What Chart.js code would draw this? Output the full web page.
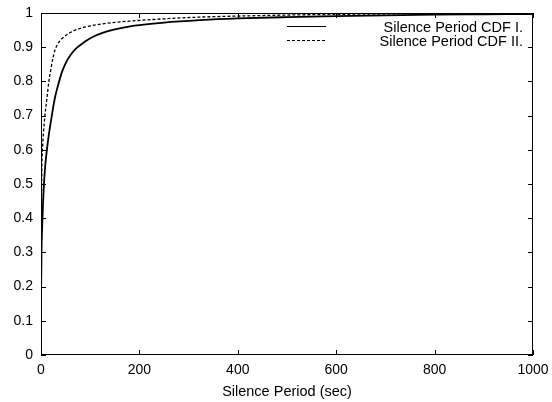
<!DOCTYPE html>
<html>
<head>
<meta charset="utf-8">
<script src="https://cdn.jsdelivr.net/npm/chart.js@4"></script>
<style>
  html, body { margin: 0; padding: 0; background: #fff; }
  #wrap { width: 552px; height: 402px; }
</style>
</head>
<body>
<div id="wrap"><canvas id="chartCdf" width="552" height="402"></canvas></div>
<script>
// valores (segundos, probabilidade acumulada)
const periodoI = [0, 1, 2, 4, 6, 9, 12, 16, 22, 28, 34, 42, 50, 60, 72, 88, 105, 125, 150, 190, 250, 323, 400, 500, 600, 700, 800, 900, 1000];
const cdfI     = [0.15, 0.3, 0.36, 0.44, 0.5, 0.56, 0.6, 0.645, 0.7, 0.75, 0.785, 0.825, 0.853, 0.877, 0.897, 0.915, 0.93, 0.942, 0.952, 0.963, 0.972, 0.979, 0.984, 0.988, 0.991, 0.993, 0.995, 0.996, 0.997];

const periodoII = [0, 1, 2, 3, 5, 8, 12, 16, 20, 24, 28, 33, 40, 50, 62, 80, 100, 123, 187, 250, 323, 400, 500, 600, 800, 1000];
const cdfII     = [0.2, 0.45, 0.56, 0.6, 0.65, 0.7, 0.75, 0.8, 0.835, 0.866, 0.89, 0.907, 0.921, 0.934, 0.945, 0.955, 0.962, 0.968, 0.977, 0.983, 0.988, 0.991, 0.994, 0.996, 0.998, 0.999];

const rotulos = ['Silence Period CDF I.', 'Silence Period CDF II.'];

const fonte = 'Liberation Sans, Arial, Helvetica, sans-serif';

const pontos = (xs, ys) => xs.map((x, i) => ({x: x, y: ys[i]}));

// moldura + ticks para dentro, estilo gnuplot
const molduraPlugin = {
  id: 'moldura',
  afterDraw(chart) {
    const ctx = chart.ctx;
    const a = chart.chartArea;
    const sx = chart.scales.x;
    const sy = chart.scales.y;
    ctx.save();
    ctx.strokeStyle = '#000';
    ctx.lineWidth = 1;
    ctx.strokeRect(a.left + 0.5, a.top + 0.5, a.right - a.left - 1, a.bottom - a.top - 1);
    ctx.beginPath();
    sx.ticks.forEach(t => {
      const px = Math.round(sx.getPixelForValue(t.value)) + 0.5;
      ctx.moveTo(px, a.bottom); ctx.lineTo(px, a.bottom - 5);
      ctx.moveTo(px, a.top); ctx.lineTo(px, a.top + 5);
    });
    sy.ticks.forEach(t => {
      const py = Math.round(sy.getPixelForValue(t.value)) + 0.5;
      ctx.moveTo(a.left, py); ctx.lineTo(a.left + 5, py);
      ctx.moveTo(a.right, py); ctx.lineTo(a.right - 5, py);
    });
    ctx.stroke();

    // legenda
    ctx.font = '14.5px ' + fonte;
    ctx.fillStyle = '#000';
    ctx.textAlign = 'right';
    ctx.textBaseline = 'middle';
    const linhasY = [26.5, 40.5];
    const textoY = [27.5, 42];
    chart.data.datasets.forEach((ds, i) => {
      ctx.beginPath();
      ctx.lineWidth = 1;
      ctx.setLineDash(ds.borderDash || []);
      ctx.moveTo(287, linhasY[i]);
      ctx.lineTo(326, linhasY[i]);
      ctx.stroke();
      ctx.setLineDash([]);
      ctx.fillText(ds.label, 523, textoY[i]);
    });
    ctx.restore();
  }
};

new Chart(document.getElementById('chartCdf'), {
  type: 'line',
  data: {
    datasets: [
      {
        label: rotulos[0],
        data: pontos(periodoI, cdfI),
        borderColor: '#000',
        borderWidth: 1.8,
        pointRadius: 0,
        cubicInterpolationMode: 'monotone',
        fill: false
      },
      {
        label: rotulos[1],
        data: pontos(periodoII, cdfII),
        borderColor: '#000',
        borderWidth: 1.3,
        borderDash: [3, 2],
        pointRadius: 0,
        cubicInterpolationMode: 'monotone',
        fill: false
      }
    ]
  },
  options: {
    responsive: false,
    animation: false,
    layout: {padding: {left: 0, right: 19, top: 13, bottom: 0}},
    plugins: {legend: {display: false}, tooltip: {enabled: false}},
    scales: {
      x: {
        type: 'linear',
        min: 0,
        max: 1000,
        afterFit: s => { s.height = 47; s.paddingLeft = 0; s.paddingRight = 0; },
        ticks: {stepSize: 200, color: '#000', padding: 7, maxRotation: 0, font: {family: fonte, size: 14}, callback: v => String(v)},
        grid: {display: false, drawTicks: false},
        border: {display: false},
        title: {display: true, text: 'Silence Period (sec)', color: '#000', font: {family: fonte, size: 14.5}, padding: {top: 0, bottom: 1}}
      },
      y: {
        min: 0,
        max: 1,
        afterFit: s => { s.width = 41; s.paddingTop = 0; s.paddingBottom = 0; },
        ticks: {stepSize: 0.1, color: '#000', padding: 8, font: {family: fonte, size: 14}, callback: v => Math.round(v * 10) / 10},
        grid: {display: false, drawTicks: false},
        border: {display: false}
      }
    }
  },
  plugins: [molduraPlugin]
});
</script>
</body>
</html>
